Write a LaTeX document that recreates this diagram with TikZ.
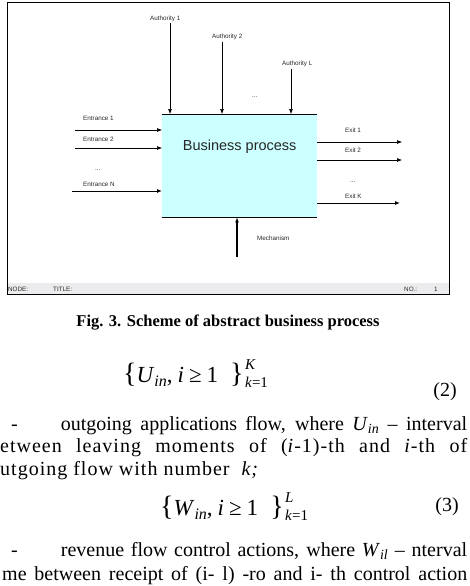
\documentclass[tikz,border=0pt]{standalone}
\usepackage{fontspec}
\setmainfont{Liberation Serif}
\newfontfamily\diagfont{Liberation Sans}
\usetikzlibrary{arrows.meta, positioning}
\usetikzlibrary{calc}

\definecolor{boxcyan}{RGB}{204,255,255}
\definecolor{footgray}{RGB}{236,236,238}

\begin{document}
\begin{tikzpicture}[x=1pt,y=-1pt,
  flow/.style={-{Latex[length=5pt,width=4pt]}, line width=0.6pt},
  lbl/.style={font=\diagfont\fontsize{6.3}{7}\selectfont, text=black!85, inner sep=0pt, anchor=west},
  body/.style={font=\fontsize{20}{20}\selectfont, inner sep=0pt, anchor=base west},
  eqn/.style={font=\fontsize{23}{23}\selectfont, inner sep=0pt, anchor=base west}]

\useasboundingbox (0,0) rectangle (470,586);

% set with upper and lower limits
\def\flowset#1#2{{\fontsize{28}{28}\selectfont\{}\textit{#1}\raisebox{-4pt}{\fontsize{16}{16}\selectfont\textit{in}},\hspace{5pt}\textit{i}\hspace{5pt}≥\hspace{5pt}1\hspace{12pt}{\fontsize{28}{28}\selectfont\}}\hspace{1.5pt}{\fontsize{15}{15}\selectfont\rlap{\raisebox{13pt}{\textit{#2}}}\raisebox{-5pt}{\textit{k}=1}}}

% screen frame
\fill[footgray] (7,283) rectangle (449,294);
\draw[line width=0.8pt] (7,2) rectangle (449,294);

% process box
\node[fill=boxcyan, minimum width=155pt, minimum height=103pt, inner sep=0pt, anchor=north west] (bp) at (162,114) {};
\draw[line width=0.8pt] (bp.north west) -- (bp.north east);
\draw[line width=0.8pt] (bp.south west) -- (bp.south east);
\node[font=\diagfont\fontsize{14.5}{15}\selectfont, text=black!85] (bpname) at ($(bp.north)+(0,33)$) {Business process};

% controls
\foreach \name/\x/\top/\lx/\ly/\txt in {auth1/170/23/150/19/Authority 1, auth2/222/42/212/37/Authority 2, authL/291/69/282/64/Authority L} {
  \coordinate (\name) at (\x,\top);
  \draw[flow] (\name) -- (\name |- bp.north);
  \node[lbl] (\name-l) at (\lx,\ly) {\txt};
}
\node[lbl] (authdots) at (252,97) {...};

% inputs
\foreach \name/\x/\y/\ly/\w/\txt in {in1/75/130/118/0.6/Entrance 1, in2/75/148/139/0.6/Entrance 2, inN/72/191/184/1/Entrance N} {
  \coordinate (\name) at (\x,\y);
  \draw[flow, line width=\w pt] (\name) -- (\name -| bp.west);
  \node[lbl] (\name-l) at (83,\ly) {\txt};
}
\node[lbl] (indots) at (95,170) {...};

% outputs
\foreach \name/\x/\y/\ly/\w/\txt in {out1/402/142/130/0.6/Exit 1, out2/402/160/150/0.6/Exit 2, outK/400/203/196/1/Exit K} {
  \coordinate (\name) at (\x,\y);
  \draw[flow, line width=\w pt] (\name -| bp.east) -- (\name);
  \node[lbl] (\name-l) at (345,\ly) {\txt};
}
\node[lbl] (outdots) at (350,182) {...};

% mechanism
\coordinate (mech) at (237,257);
\draw[flow, line width=1.5pt] (mech) -- (mech |- bp.south);
\node[lbl] (mech-l) at (257,238) {Mechanism};

% footer
\node[lbl] (node-f) at (8,289) {NODE:};
\node[lbl] (title-f) at (53,289) {TITLE:};
\node[lbl] (no-f) at (404,289) {NO.:};
\node[lbl] (num-f) at (434,289) {1};

% caption and text
\node[font=\bfseries\fontsize{16.5}{17}\selectfont, inner sep=0pt] (caption) at (228,323) {Fig. 3. Scheme of abstract business process};

\node[eqn] (eqU) at (123,382) {\flowset{U}{K}};
\node[body, anchor=center] (eqU-n) at (445,392) {(2)};

\node[body] (ln1) at (11,430.5) {\makebox[456pt][s]{-\hspace{43pt}outgoing applications flow, where \textit{U}\textsubscript{\textit{in}} – interval}};
\node[body] (ln2) at (0,452.5) {\addfontfeature{LetterSpace=5}\makebox[467pt][s]{etween leaving moments of (\textit{i}-1)-th and \textit{i}-th of}};
\node[body] (ln3) at (0,475) {\addfontfeature{LetterSpace=5}utgoing flow with number\ \ \textit{k;}};

\node[eqn] (eqW) at (160,515) {\flowset{W}{L}};
\node[body, anchor=center] (eqW-n) at (447,507) {(3)};

\node[body] (ln4) at (11,556.5) {\makebox[456pt][s]{-\hspace{43pt}revenue flow control actions, where \textit{W}\textsubscript{\textit{il}} – nterval}};
\node[body] (ln5) at (2,580.5) {\makebox[465pt][s]{me between receipt of (i- l) -ro and i- th control action}};

\end{tikzpicture}
\end{document}
